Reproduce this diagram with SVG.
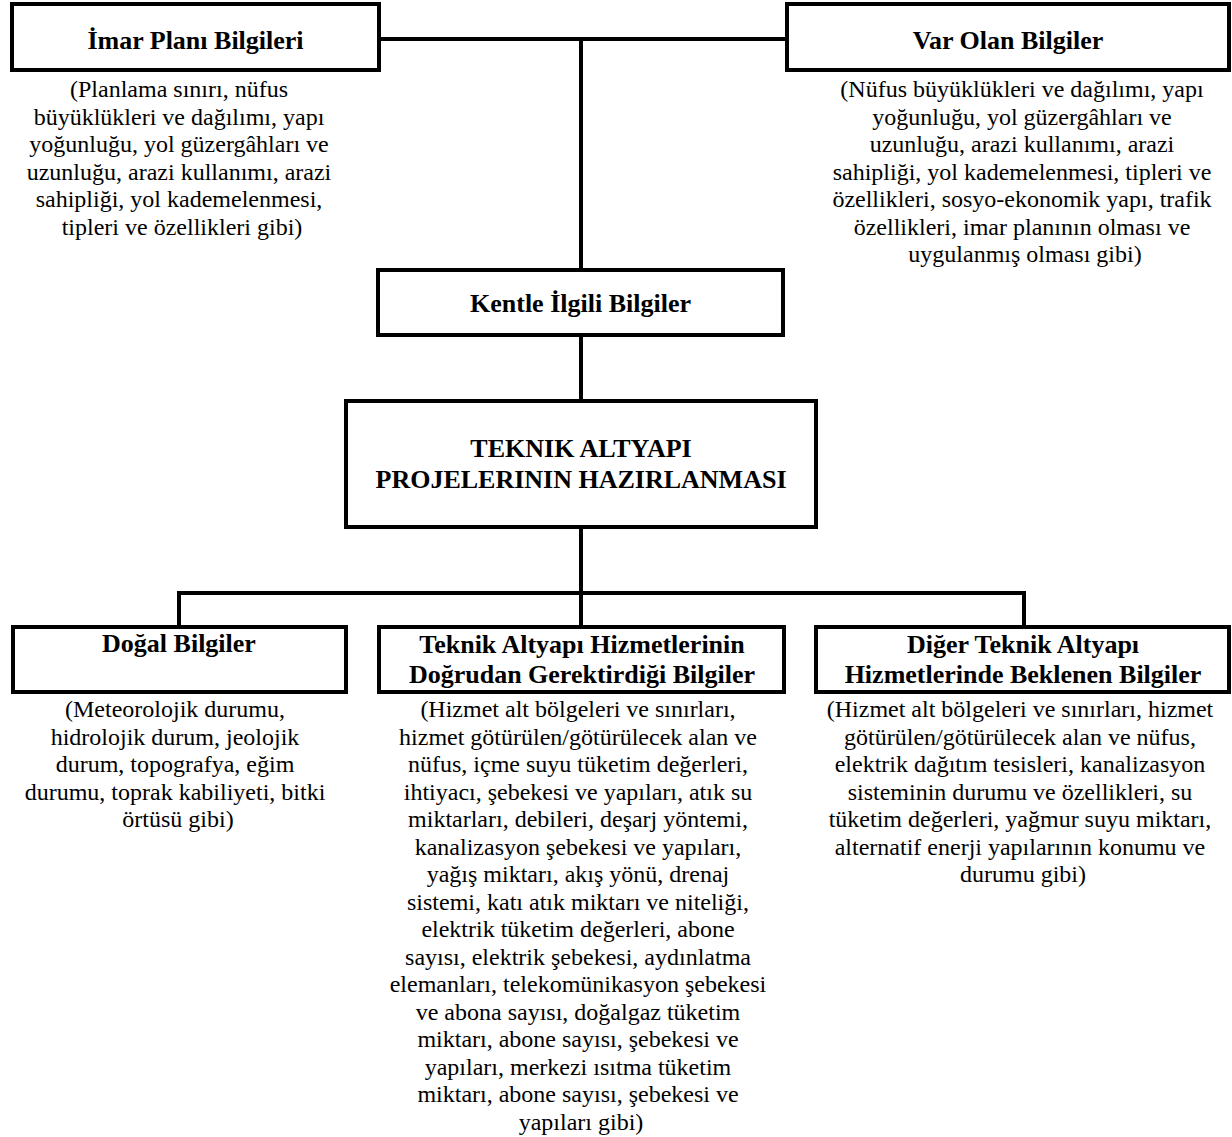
<svg xmlns="http://www.w3.org/2000/svg" width="1232" height="1137" viewBox="0 0 1232 1137">
<style>
.box{fill:#fff;stroke:#000;stroke-width:4}
.ln{fill:none;stroke:#000;stroke-width:4}
.t{font-family:"Liberation Serif","Times New Roman",serif;font-size:26px;font-weight:bold;text-anchor:middle;fill:#000}
.d{font-family:"Liberation Serif","Times New Roman",serif;font-size:24px;text-anchor:middle;fill:#000}
</style>
<rect width="1232" height="1137" fill="#fff"/>
<g id="connectors">
<path class="ln" d="M379 39H787"/>
<path class="ln" d="M581 39V270"/>
<path class="ln" d="M581 335V401"/>
<path class="ln" d="M581 527V627"/>
<path class="ln" d="M179 627V593H1024V627"/>
</g>
<g id="imar">
<rect class="box" x="12" y="4" width="367" height="66"/>
<text class="t" x="195.5" y="49">İmar Planı Bilgileri</text>
<text class="d" x="182">
<tspan x="182" y="97">(Planlama sınırı, nüfus</tspan>
<tspan x="182" y="124.5">büyüklükleri ve dağılımı, yapı</tspan>
<tspan x="182" y="152">yoğunluğu, yol güzergâhları ve</tspan>
<tspan x="182" y="179.5">uzunluğu, arazi kullanımı, arazi</tspan>
<tspan x="182" y="207">sahipliği, yol kademelenmesi,</tspan>
<tspan x="182" y="234.5">tipleri ve özellikleri gibi)</tspan>
</text>
</g>
<g id="varolan">
<rect class="box" x="787" y="4" width="442" height="66"/>
<text class="t" x="1008" y="49">Var Olan Bilgiler</text>
<text class="d">
<tspan x="1025" y="97">(Nüfus büyüklükleri ve dağılımı, yapı</tspan>
<tspan x="1025" y="124.5">yoğunluğu, yol güzergâhları ve</tspan>
<tspan x="1025" y="152">uzunluğu, arazi kullanımı, arazi</tspan>
<tspan x="1025" y="179.5">sahipliği, yol kademelenmesi, tipleri ve</tspan>
<tspan x="1025" y="207">özellikleri, sosyo-ekonomik yapı, trafik</tspan>
<tspan x="1025" y="234.5">özellikleri, imar planının olması ve</tspan>
<tspan x="1025" y="262">uygulanmış olması gibi)</tspan>
</text>
</g>
<g id="kentle">
<rect class="box" x="378" y="270" width="405" height="65"/>
<text class="t" x="580.5" y="311.5">Kentle İlgili Bilgiler</text>
</g>
<g id="teknik">
<rect class="box" x="346" y="401" width="470" height="126"/>
<text class="t"><tspan x="581" y="457">TEKNIK ALTYAPI</tspan><tspan x="581" y="488">PROJELERININ HAZIRLANMASI</tspan></text>
</g>
<g id="dogal">
<rect class="box" x="13" y="627" width="333" height="65"/>
<text class="t" x="179" y="652">Doğal Bilgiler</text>
<text class="d">
<tspan x="178" y="717">(Meteorolojik durumu,</tspan>
<tspan x="178" y="744.5">hidrolojik durum, jeolojik</tspan>
<tspan x="178" y="772">durum, topografya, eğim</tspan>
<tspan x="178" y="799.5">durumu, toprak kabiliyeti, bitki</tspan>
<tspan x="178" y="827">örtüsü gibi)</tspan>
</text>
</g>
<g id="dogrudan">
<rect class="box" x="379" y="627" width="405" height="65"/>
<text class="t"><tspan x="582" y="653">Teknik Altyapı Hizmetlerinin</tspan><tspan x="582" y="683">Doğrudan Gerektirdiği Bilgiler</tspan></text>
<text class="d">
<tspan x="581" y="717">(Hizmet alt bölgeleri ve sınırları,</tspan>
<tspan x="581" y="744.5">hizmet götürülen/götürülecek alan ve</tspan>
<tspan x="581" y="772">nüfus, içme suyu tüketim değerleri,</tspan>
<tspan x="581" y="799.5">ihtiyacı, şebekesi ve yapıları, atık su</tspan>
<tspan x="581" y="827">miktarları, debileri, deşarj yöntemi,</tspan>
<tspan x="581" y="854.5">kanalizasyon şebekesi ve yapıları,</tspan>
<tspan x="581" y="882">yağış miktarı, akış yönü, drenaj</tspan>
<tspan x="581" y="909.5">sistemi, katı atık miktarı ve niteliği,</tspan>
<tspan x="581" y="937">elektrik tüketim değerleri, abone</tspan>
<tspan x="581" y="964.5">sayısı, elektrik şebekesi, aydınlatma</tspan>
<tspan x="581" y="992">elemanları, telekomünikasyon şebekesi</tspan>
<tspan x="581" y="1019.5">ve abona sayısı, doğalgaz tüketim</tspan>
<tspan x="581" y="1047">miktarı, abone sayısı, şebekesi ve</tspan>
<tspan x="581" y="1074.5">yapıları, merkezi ısıtma tüketim</tspan>
<tspan x="581" y="1102">miktarı, abone sayısı, şebekesi ve</tspan>
<tspan x="581" y="1129.5">yapıları gibi)</tspan>
</text>
</g>
<g id="diger">
<rect class="box" x="816" y="627" width="413" height="65"/>
<text class="t"><tspan x="1023" y="653">Diğer Teknik Altyapı</tspan><tspan x="1023" y="683">Hizmetlerinde Beklenen Bilgiler</tspan></text>
<text class="d">
<tspan x="1023" y="717">(Hizmet alt bölgeleri ve sınırları, hizmet</tspan>
<tspan x="1023" y="744.5">götürülen/götürülecek alan ve nüfus,</tspan>
<tspan x="1023" y="772">elektrik dağıtım tesisleri, kanalizasyon</tspan>
<tspan x="1023" y="799.5">sisteminin durumu ve özellikleri, su</tspan>
<tspan x="1023" y="827">tüketim değerleri, yağmur suyu miktarı,</tspan>
<tspan x="1023" y="854.5">alternatif enerji yapılarının konumu ve</tspan>
<tspan x="1023" y="882">durumu gibi)</tspan>
</text>
</g>
</svg>
